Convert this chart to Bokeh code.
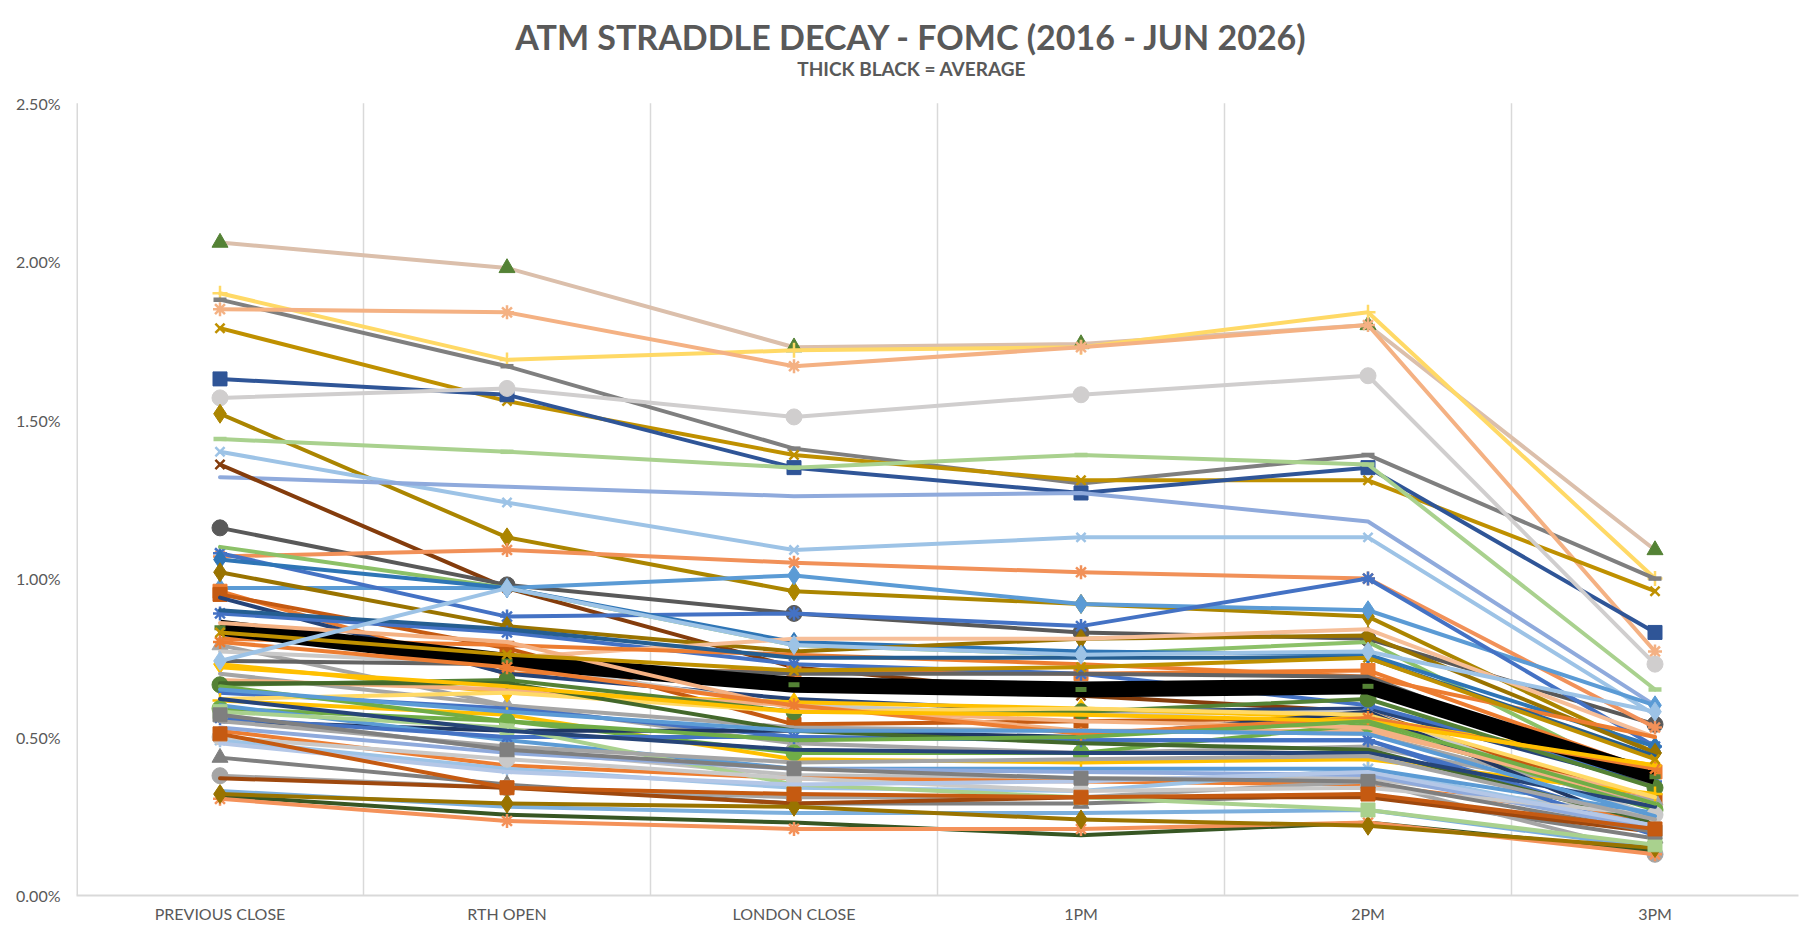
from bokeh.plotting import figure
from bokeh.models import Range1d, FixedTicker, PrintfTickFormatter, Label
from bokeh.embed import file_html
from bokeh.resources import INLINE

categories = ["PREVIOUS CLOSE", "RTH OPEN", "LONDON CLOSE", "1PM", "2PM", "3PM"]
y_ticks = [0, 0.5, 1.0, 1.5, 2.0, 2.5]

title_text = "ATM STRADDLE DECAY - FOMC (2016 - JUN 2026)"
subtitle_text = "THICK BLACK = AVERAGE"

# values in percent, one entry per FOMC meeting series
prev_close = [2.06, 1.90, 1.88, 1.85, 1.79, 1.63, 1.57, 1.52, 1.44, 1.40,
              1.32, 1.36, 1.16, 1.07, 0.97, 1.08, 1.10, 1.06, 1.02, 0.96,
              0.95, 0.94, 0.89, 0.85, 0.81, 0.79, 0.77, 0.74, 0.73, 0.70,
              0.68, 0.665, 0.64, 0.615, 0.59, 0.57, 0.55, 0.52, 0.49, 0.435,
              0.378, 0.37, 0.33, 0.315, 0.305, 0.32, 0.60, 0.56, 0.62, 0.67,
              0.58, 0.53, 0.50, 0.48, 0.86, 0.80, 0.90, 0.62, 0.72, 0.83,
              0.66, 0.65, 0.55, 0.57, 0.74, 0.51]
rth_open = [1.98, 1.69, 1.67, 1.84, 1.56, 1.58, 1.60, 1.13, 1.40, 1.24,
            1.29, 0.97, 0.98, 1.09, 0.97, 0.88, 0.97, 0.97, 0.85, 0.70,
            0.78, 0.70, 0.83, 0.75, 0.79, 0.60, 0.73, 0.73, 0.64, 0.60,
            0.65, 0.68, 0.59, 0.57, 0.55, 0.46, 0.52, 0.41, 0.40, 0.35,
            0.34, 0.34, 0.28, 0.255, 0.235, 0.29, 0.49, 0.50, 0.64, 0.67,
            0.53, 0.45, 0.43, 0.39, 0.80, 0.72, 0.84, 0.52, 0.66, 0.76,
            0.55, 0.58, 0.47, 0.46, 0.97, 0.34]
london_close = [1.73, 1.72, 1.41, 1.67, 1.39, 1.35, 1.51, 0.96, 1.35, 1.09,
                1.26, 0.72, 0.89, 1.05, 1.01, 0.89, 0.79, 0.80, 0.77, 0.71,
                0.54, 0.62, 0.73, 0.81, 0.76, 0.48, 0.60, 0.70, 0.61, 0.53,
                0.60, 0.58, 0.50, 0.43, 0.45, 0.38, 0.52, 0.37, 0.34, 0.29,
                0.31, 0.29, 0.26, 0.23, 0.21, 0.28, 0.40, 0.50, 0.58, 0.52,
                0.35, 0.40, 0.37, 0.35, 0.59, 0.60, 0.75, 0.46, 0.58, 0.71,
                0.49, 0.52, 0.42, 0.40, 0.79, 0.32]
pm1 = [1.74, 1.73, 1.30, 1.73, 1.31, 1.27, 1.58, 0.92, 1.39, 1.13,
       1.27, 0.63, 0.83, 1.02, 0.92, 0.85, 0.76, 0.77, 0.81, 0.70,
       0.55, 0.58, 0.70, 0.81, 0.73, 0.45, 0.57, 0.70, 0.59, 0.52,
       0.52, 0.58, 0.49, 0.42, 0.45, 0.37, 0.50, 0.36, 0.33, 0.29,
       0.31, 0.31, 0.26, 0.19, 0.21, 0.24, 0.40, 0.49, 0.59, 0.48,
       0.31, 0.39, 0.33, 0.36, 0.55, 0.51, 0.75, 0.45, 0.57, 0.72,
       0.50, 0.52, 0.43, 0.37, 0.76, 0.31]
pm2 = [1.80, 1.84, 1.39, 1.80, 1.31, 1.35, 1.64, 0.88, 1.36, 1.13,
       1.18, 0.58, 0.81, 1.00, 0.90, 1.00, 0.80, 0.76, 0.82, 0.71,
       0.56, 0.59, 0.60, 0.84, 0.69, 0.47, 0.58, 0.69, 0.56, 0.51,
       0.52, 0.62, 0.49, 0.43, 0.54, 0.37, 0.58, 0.35, 0.40, 0.32,
       0.36, 0.31, 0.27, 0.23, 0.23, 0.22, 0.40, 0.49, 0.57, 0.46,
       0.27, 0.38, 0.34, 0.39, 0.53, 0.56, 0.75, 0.45, 0.55, 0.75,
       0.55, 0.51, 0.44, 0.36, 0.77, 0.32]
pm3 = [1.09, 1.00, 1.00, 0.77, 0.96, 0.83, 0.73, 0.45, 0.65, 0.57,
       0.60, 0.28, 0.54, 0.53, 0.60, 0.47, 0.35, 0.47, 0.45, 0.39,
       0.30, 0.35, 0.36, 0.50, 0.50, 0.30, 0.25, 0.35, 0.41, 0.28,
       0.31, 0.34, 0.22, 0.32, 0.27, 0.25, 0.20, 0.24, 0.22, 0.18,
       0.13, 0.20, 0.15, 0.14, 0.13, 0.15, 0.26, 0.19, 0.31, 0.23,
       0.16, 0.21, 0.255, 0.22, 0.29, 0.40, 0.44, 0.28, 0.41, 0.43,
       0.29, 0.25, 0.24, 0.20, 0.58, 0.21]

average = [0.845, 0.74, 0.665, 0.65, 0.66, 0.375]

line_colors = ["#DBBFAB", "#FFD966", "#7F7F7F", "#F4B183", "#BF9000", "#2F5597", "#D0CECE", "#AB8500", "#A9D18E", "#9DC3E6",
               "#8FAADC", "#843C0C", "#595959", "#F19159", "#5B9BD5", "#4472C4", "#8CC168", "#2E75B6", "#997300", "#ED7D31",
               "#C55A11", "#264478", "#4472C4", "#F6BE98", "#ED7D31", "#A5A5A5", "#C9C9C9", "#636363", "#FFC000", "#A5A5A5",
               "#F4B183", "#548235", "#4472C4", "#FFC000", "#70AD47", "#BFBFBF", "#203864", "#ED7D31", "#9DC3E6", "#7F7F7F",
               "#A5A5A5", "#9E480E", "#7CAFDD", "#375623", "#F4925A", "#997300", "#5B9BD5", "#4472C4", "#FFD966", "#43682B",
               "#A9D18E", "#8FAADC", "#C9C9C9", "#B4C7E7", "#F4B183", "#ED7D31", "#255E91", "#264478", "#FFC000", "#BF9000",
               "#70AD47", "#5B9BD5", "#A5A5A5", "#7F7F7F", "#9DC3E6", "#C55A11"]
markers = ["triangle", "cross", "dash", "asterisk", "x", "square", "circle", "diamond", "dash", "x",
           "none", "x", "circle", "asterisk", "diamond", "asterisk", "none", "diamond", "diamond", "square",
           "square", "none", "asterisk", "none", "none", "triangle", "none", "none", "diamond", "none",
           "none", "circle", "none", "cross", "circle", "none", "none", "none", "asterisk", "triangle",
           "circle", "none", "none", "none", "asterisk", "diamond", "none", "asterisk", "none", "none",
           "square", "none", "circle", "none", "none", "asterisk", "none", "none", "none", "x",
           "none", "none", "none", "square", "diamond", "square"]
marker_colors = ["#548235", "#FFD966", "#7F7F7F", "#F4B183", "#BF9000", "#2F5597", "#D0CECE", "#AB8500", "#A9D18E", "#9DC3E6",
                 "#8FAADC", "#843C0C", "#595959", "#F19159", "#5B9BD5", "#4472C4", "#8CC168", "#2E75B6", "#997300", "#ED7D31",
                 "#C55A11", "#264478", "#4472C4", "#F6BE98", "#ED7D31", "#A5A5A5", "#C9C9C9", "#636363", "#FFC000", "#A5A5A5",
                 "#F4B183", "#548235", "#4472C4", "#FFC000", "#70AD47", "#BFBFBF", "#203864", "#ED7D31", "#9DC3E6", "#7F7F7F",
                 "#A5A5A5", "#9E480E", "#7CAFDD", "#375623", "#F4925A", "#997300", "#5B9BD5", "#4472C4", "#FFD966", "#43682B",
                 "#A9D18E", "#8FAADC", "#C9C9C9", "#B4C7E7", "#F4B183", "#ED7D31", "#255E91", "#264478", "#FFC000", "#BF9000",
                 "#70AD47", "#5B9BD5", "#A5A5A5", "#7F7F7F", "#9DC3E6", "#C55A11"]

TEXT_COLOR = "#595959"
GRID_COLOR = "#D9D9D9"
FONT = "Lato"

# layout: frame spans the full canvas height above the x axis; the part above
# the top y tick holds the titles
HEIGHT = 925
BORDER_BOTTOM = 27
TOP_GAP = 103              # pixels between canvas top and the top y tick
frame_h = HEIGHT - BORDER_BOTTOM
y_max = y_ticks[-1]
y_end = y_max * frame_h / (frame_h - TOP_GAP)
px_per_unit = (frame_h - TOP_GAP) / y_max

p = figure(width=1804, height=HEIGHT, output_backend="svg", toolbar_location=None,
           x_range=Range1d(-0.5, len(categories) - 0.5), y_range=Range1d(0, y_end),
           min_border_left=76, min_border_right=6, min_border_top=0, min_border_bottom=BORDER_BOTTOM)
p.outline_line_color = None
p.background_fill_color = "white"

title_x = (len(categories) - 1) / 2 - 0.09
p.add_layout(Label(x=title_x, y=y_end - 36 / px_per_unit, text=title_text,
                   text_align="center", text_baseline="middle",
                   text_font=FONT, text_font_size="34px", text_font_style="bold", text_color=TEXT_COLOR))
p.add_layout(Label(x=title_x, y=y_end - 68 / px_per_unit, text=subtitle_text,
                   text_align="center", text_baseline="middle",
                   text_font=FONT, text_font_size="19px", text_font_style="bold", text_color=TEXT_COLOR))

xs = list(range(len(categories)))

# vertical separators between categories, stopping at the top tick
sep_x = [i + 0.5 for i in xs[:-1]]
p.segment(x0=sep_x, y0=[0] * len(sep_x), x1=sep_x, y1=[y_max] * len(sep_x),
          line_color=GRID_COLOR, line_width=1.5)
# left value axis line
p.segment(x0=[-0.5], y0=[0], x1=[-0.5], y1=[y_max], line_color=GRID_COLOR, line_width=3)

marker_sizes = {"triangle": 16, "cross": 15, "dash": 13, "asterisk": 14, "x": 13,
                "square": 14, "circle": 16, "diamond": 19}

columns = [prev_close, rth_open, london_close, pm1, pm2, pm3]
n = len(prev_close)
avg_pos = 50


def draw_series(i):
    ys = [col[i] for col in columns]
    p.line(xs, ys, line_color=line_colors[i], line_width=4, line_join="round", line_cap="round")
    m = markers[i]
    if m == "none":
        return
    if m in ("cross", "x", "asterisk", "dash"):
        p.scatter(xs, ys, marker=m, size=marker_sizes[m], fill_color=None,
                  line_color=marker_colors[i], line_width=2.5 if m != "dash" else 4.5)
    else:
        p.scatter(xs, ys, marker=m, size=marker_sizes[m], fill_color=marker_colors[i],
                  line_color=marker_colors[i], line_width=1)


for i in range(avg_pos):
    draw_series(i)

p.line(xs, average, line_color="black", line_width=16, line_join="round")
p.scatter(xs, average, marker="dash", size=11, line_color="#548235", line_width=5)

for i in range(avg_pos, n):
    draw_series(i)

p.xaxis.ticker = FixedTicker(ticks=xs)
p.xaxis.major_label_overrides = {i: c for i, c in enumerate(categories)}
p.yaxis.ticker = FixedTicker(ticks=y_ticks)
p.yaxis.formatter = PrintfTickFormatter(format="%.2f%%")

for ax in (p.xaxis, p.yaxis):
    ax.major_tick_line_color = None
    ax.minor_tick_line_color = None
    ax.major_tick_out = 0
    ax.major_tick_in = 0
    ax.minor_tick_out = 0
    ax.minor_tick_in = 0
    ax.major_label_text_font = FONT
    ax.major_label_text_color = TEXT_COLOR
p.xaxis.axis_line_color = GRID_COLOR
p.xaxis.axis_line_width = 2
p.yaxis.axis_line_color = None
p.xaxis.major_label_text_font_size = "16px"
p.yaxis.major_label_text_font_size = "16px"
p.xaxis.major_label_standoff = 8
p.yaxis.major_label_standoff = 16

p.xgrid.visible = False
p.ygrid.visible = False

open("out.html", "w").write(file_html(p, INLINE))
